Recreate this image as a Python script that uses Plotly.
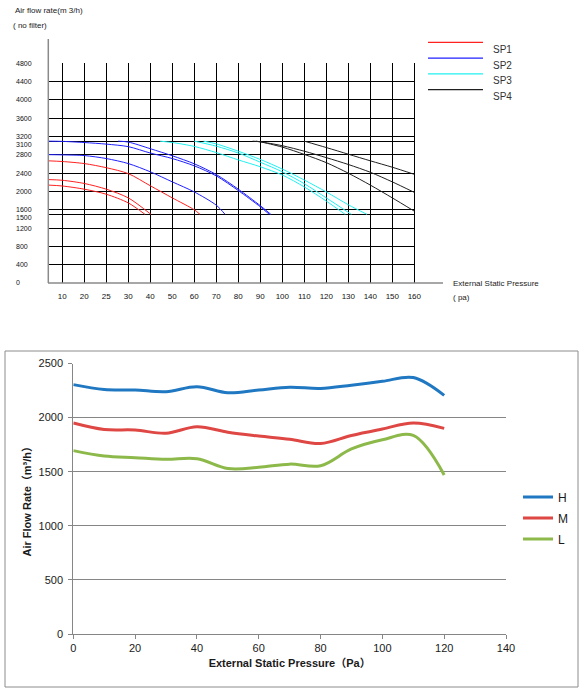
import numpy as np
import plotly.graph_objects as go

W, H = 584, 693

# ---------------- upper chart: fan curves (no filter) ----------------
x_labels = [10, 20, 25, 30, 40, 50, 60, 70, 80, 90, 100, 110, 120, 130, 140, 150, 160]
y_labels = [0, 400, 800, 1200, 1500, 1600, 2000, 2400, 2800, 3100, 3200, 3600, 4000, 4400, 4800]

sp_names = ["SP1", "SP2", "SP3", "SP4"]
sp_colors = ["#ff2020", "#2020ff", "#20f0f0", "#202020"]

# pressure (Pa) / air flow (m3/h), three curves per speed setting
sp1_p = [[0, 10, 20, 25, 30, 40, 50, 60, 62.6],
         [0, 10, 20, 25, 30, 40.3],
         [0, 10, 20, 25, 30, 37.6]]
sp1_q = [[2670, 2655, 2610, 2520, 2390, 2125, 1860, 1600, 1500],
         [2260, 2245, 2175, 2050, 1860, 1500],
         [2140, 2120, 2050, 1940, 1750, 1500]]

sp2_p = [[0, 10, 20, 25, 30, 40, 50, 60, 70, 74],
         [0, 10, 20, 25, 30, 40, 50, 60, 70, 80, 90, 94.1],
         [27.7, 30, 40, 50, 60, 70, 80, 90, 94.8]]
sp2_q = [[2805, 2800, 2785, 2720, 2610, 2430, 2210, 1990, 1700, 1500],
         [3100, 3095, 3070, 3035, 2980, 2840, 2720, 2560, 2340, 2020, 1665, 1500],
         [3100, 3080, 2935, 2780, 2605, 2370, 2050, 1690, 1500]]

sp3_p = [[44.4, 50, 60, 70, 80, 90, 100, 110, 120, 128.6],
         [60, 70, 80, 90, 100, 110, 120, 131.4],
         [64.2, 70, 80, 90, 100, 110, 120, 130, 138.5]]
sp3_q = [[3100, 3070, 2985, 2850, 2690, 2540, 2360, 2100, 1790, 1500],
         [3100, 2990, 2840, 2640, 2430, 2170, 1860, 1500],
         [3100, 3040, 2880, 2700, 2490, 2250, 1990, 1710, 1500]]

sp4_p = [[86.5, 90, 100, 110, 120, 130, 140, 150, 160],
         [88, 90, 100, 110, 120, 130, 140, 150, 160],
         [110, 120, 130, 140, 150, 160]]
sp4_q = [[3100, 3085, 3000, 2880, 2740, 2590, 2420, 2210, 1980],
         [3100, 3085, 2970, 2810, 2630, 2400, 2140, 1860, 1570],
         [3100, 2960, 2815, 2670, 2530, 2375]]

# ---------------- lower chart: H / M / L ----------------
esp = [0, 10, 20, 30, 40, 50, 60, 70, 80, 90, 100, 110, 120]
flow_h = [2305, 2260, 2255, 2240, 2285, 2230, 2255, 2280, 2270, 2300, 2335, 2370, 2205]
flow_m = [1950, 1890, 1885, 1855, 1915, 1865, 1830, 1800, 1760, 1835, 1895, 1950, 1900]
flow_l = [1695, 1645, 1630, 1615, 1620, 1530, 1540, 1570, 1555, 1710, 1795, 1835, 1470]
speed_names = ["H", "M", "L"]
speed_colors = ["#1f78c1", "#de4743", "#8cb94a"]

# the upper chart has unevenly labelled columns, so each label gets its own column
x_origin = 1 - 14 / 22  # axis sits a bit left of the "10" column line
scale_p = [0] + x_labels
scale_pos = [x_origin] + list(range(1, len(x_labels) + 1))


def to_pos(p):
    return np.interp(p, scale_p, scale_pos)


def px(x):
    return x / W


def py(y):
    return 1 - y / H


fig = go.Figure()

for name, color, ps, qs in zip(sp_names, sp_colors,
                               [sp1_p, sp2_p, sp3_p, sp4_p],
                               [sp1_q, sp2_q, sp3_q, sp4_q]):
    for p, q in zip(ps, qs):
        fig.add_trace(go.Scatter(
            x=to_pos(p), y=q, xaxis="x", yaxis="y",
            mode="lines", line=dict(color=color, width=1, shape="spline", smoothing=0.8),
            name=name, showlegend=False, hoverinfo="skip"
        ))

for name, color, q in zip(speed_names, speed_colors, [flow_h, flow_m, flow_l]):
    fig.add_trace(go.Scatter(
        x=esp, y=q, xaxis="x2", yaxis="y2",
        mode="lines", line=dict(color=color, width=3, shape="spline", smoothing=1),
        name=name, legendgroup=name
    ))

shapes = []
annotations = []

# upper chart axis lines (grey, longer than the grid)
shapes.append(dict(type="line", xref="x domain", yref="paper", x0=0, x1=0,
                   y0=py(283), y1=py(39), line=dict(color="#8a8a8a", width=1.5)))
shapes.append(dict(type="line", xref="paper", yref="y domain", x0=px(48), x1=px(443),
                   y0=0, y1=0, line=dict(color="#8a8a8a", width=1.5)))

# left aligned y labels of the upper chart (3100 / 1500 sit just under their line)
for v in y_labels:
    annotations.append(dict(x=px(14), xref="paper", y=v, yref="y", text=str(v),
                            xanchor="left", yanchor="middle", showarrow=False,
                            yshift=-3 if v in (1500, 3100) else 0,
                            font=dict(size=7, color="#111")))

annotations += [
    dict(x=px(13), y=py(10), xref="paper", yref="paper", text="Air flow rate(m 3/h)",
         xanchor="left", yanchor="middle", showarrow=False, font=dict(size=8, color="#222")),
    dict(x=px(11), y=py(26), xref="paper", yref="paper", text="( no filter)",
         xanchor="left", yanchor="middle", showarrow=False, font=dict(size=8, color="#222")),
    dict(x=px(451), y=py(283), xref="paper", yref="paper", text="External Static Pressure",
         xanchor="left", yanchor="middle", showarrow=False, font=dict(size=8, color="#222")),
    dict(x=px(451), y=py(297), xref="paper", yref="paper", text="( pa)",
         xanchor="left", yanchor="middle", showarrow=False, font=dict(size=8, color="#222")),
]

# hand-drawn style legend of the upper chart
for i, (name, color) in enumerate(zip(sp_names, sp_colors)):
    ly = 42.3 + i * 15.8
    shapes.append(dict(type="line", xref="paper", yref="paper", x0=px(428), x1=px(483),
                       y0=py(ly), y1=py(ly), line=dict(color=color, width=1.2)))
    annotations.append(dict(x=px(491), y=py(ly + 7), xref="paper", yref="paper", text=name,
                            xanchor="left", yanchor="middle", showarrow=False,
                            font=dict(size=10, color="#333")))

# frame round the lower chart
shapes.append(dict(type="rect", xref="paper", yref="paper", x0=px(5), x1=px(578),
                   y0=py(687), y1=py(351), line=dict(color="#8c8c8c", width=1)))

fig.update_layout(
    width=W, height=H,
    margin=dict(l=0, r=0, t=0, b=0),
    paper_bgcolor="white", plot_bgcolor="white",
    font=dict(family="Liberation Sans, Arial, Noto Sans CJK SC", color="#222"),
    xaxis=dict(
        domain=[px(48.3), px(415.4)], range=[x_origin, 17.05], automargin=False,
        tickvals=list(range(1, len(x_labels) + 1)), ticktext=[str(v) for v in x_labels],
        showgrid=True, gridcolor="black", gridwidth=1.3,
        zeroline=False, showline=False, ticks="",
        ticklabelstandoff=7, tickfont=dict(size=8, color="#111"), fixedrange=True
    ),
    yaxis=dict(
        domain=[py(283), py(62.9)], range=[0, 4810], automargin=False,
        tickvals=[v for v in y_labels if v > 0],
        showgrid=True, gridcolor="black", gridwidth=1.3,
        zeroline=False, showline=False, showticklabels=False, ticks="", fixedrange=True
    ),
    xaxis2=dict(
        domain=[px(73.3), px(506)], range=[0, 140], dtick=20, anchor="y2", automargin=False,
        showgrid=False, zeroline=False, showline=True, linecolor="#868686", linewidth=1,
        ticks="outside", ticklen=4, tickcolor="#868686",
        tickfont=dict(size=11, color="#1a1a1a"),
        title=dict(text="<b>External Static Pressure（Pa）</b>", font=dict(size=11, color="#1a1a1a"),
                   standoff=6)
    ),
    yaxis2=dict(
        domain=[py(634), py(363.5)], range=[0, 2500], dtick=500, anchor="x2", automargin=False,
        showgrid=True, gridcolor="#868686", gridwidth=1,
        zeroline=False, showline=True, linecolor="#868686", linewidth=1,
        ticks="outside", ticklen=4, tickcolor="#868686", ticklabelstandoff=3,
        tickfont=dict(size=11, color="#1a1a1a"),
        title=dict(text="<b>Air Flow Rate（m³/h）</b>", font=dict(size=11, color="#1a1a1a"),
                   standoff=4)
    ),
    legend=dict(x=px(518), y=py(518), xanchor="left", yanchor="middle",
                font=dict(size=12, color="#1a1a1a"), bgcolor="rgba(0,0,0,0)",
                tracegroupgap=2, itemwidth=30),
    shapes=shapes,
    annotations=annotations,
)

# the page body has a default 8px margin; drop it so the figure sits at the window corner
fig.write_html("out.html", config={"displayModeBar": False},
               post_script="document.body.style.margin = '0';")
